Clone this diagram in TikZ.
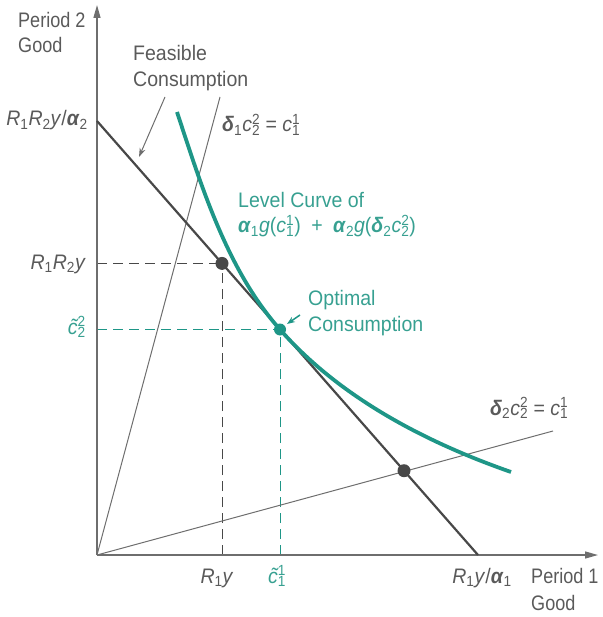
\documentclass[tikz,border=0pt]{standalone}
\usepackage{fontspec}
\setmainfont[FakeStretch=0.93]{Liberation Sans}
\newfontfamily\narrowf[FakeStretch=0.86]{Liberation Sans}
\usetikzlibrary{arrows.meta,calc}
\definecolor{teal1}{RGB}{30,150,135}
\definecolor{tealtxt}{RGB}{55,160,145}
\definecolor{gtxt}{RGB}{90,90,90}
\definecolor{gline}{RGB}{110,110,110}
\definecolor{gdark}{RGB}{72,72,72}
\newcommand\iv[1]{\textit{#1}}
\newcommand\gk[1]{\textbf{\textit{#1}}}
\newcommand\sbs[1]{\textsubscript{#1}}
\newcommand\sbp[2]{\rlap{\textsuperscript{#1}}\textsubscript{#2}}
\tikzset{
 lbl/.style={font=\fontsize{21}{25}\selectfont, text=gtxt, inner sep=0pt},
 nlbl/.style={font=\fontsize{21}{25}\selectfont\narrowf, text=gtxt, inner sep=0pt},
 tlbl/.style={lbl, text=tealtxt},
 axisline/.style={draw=gline, line width=1.3pt, -{Triangle[length=13pt,width=7pt]}},
 ray/.style={draw=gline, line width=1pt},
 budget/.style={draw=gdark, line width=2.2pt},
 lvl/.style={draw=teal1, line width=3.8pt},
 gdash/.style={draw=gdark, line width=1pt, dash pattern=on 10pt off 6pt},
 tdash/.style={draw=teal1, line width=1pt, dash pattern=on 10pt off 6pt},
 gdot/.style={circle, fill=gdark, minimum size=13pt, inner sep=0pt},
 tdot/.style={circle, fill=teal1, minimum size=12pt, inner sep=0pt},
 pointer/.style={draw=gline, line width=1pt, -{Stealth[length=9pt,width=6pt]}},
 tpointer/.style={draw=teal1, line width=1.5pt, -{Stealth[length=8pt,width=6pt]}},
}
\begin{document}
\begin{tikzpicture}[x=1pt,y=-1pt]
\useasboundingbox (0,0) rectangle (602,617);
% coordinates
\coordinate (O) at (97,555);
\coordinate (Ytop) at (97,5);
\coordinate (Xend) at (598,555);
\coordinate (B1) at (97,121);
\coordinate (B2) at (478,555);
\coordinate (S1) at (220,97);
\coordinate (S2) at (553,431);
\coordinate (E) at (222,263.4);
\coordinate (T) at (280,329.5);
\coordinate (P3) at (404,470.7);
\coordinate (C0) at (177,112);
\coordinate (C1) at (511,472);
\coordinate (FA) at (165,97);
\coordinate (FB) at (139,157);
\coordinate (OA) at (300,315);
\coordinate (OB) at (287,324);
% dashed guides
\draw[gdash] (E -| O) -- (E);
\draw[gdash] (E |- O) -- (E);
\draw[tdash] (T -| O) -- (T);
\draw[tdash] (T |- O) -- (T);
% rays
\draw[ray] (O) -- (S1);
\draw[ray] (O) -- (S2);
% axes
\draw[axisline] (O) -- (Ytop);
\draw[axisline] (O) -- (Xend);
% budget line
\draw[budget] (B1) -- (B2);
% level curve
\draw[lvl] (C0) .. controls (201,185) and (227,270) .. (T)
 .. controls (339.4,397.2) and (425,442) .. (C1);
% dots
\node[gdot] (dE) at (E) {};
\node[gdot] (dP) at (P3) {};
\node[tdot] (dT) at (T) {};
% pointers
\draw[pointer] (FA) -- (FB);
\draw[tpointer] (OA) -- (OB);
% labels
\node[nlbl, anchor=base west] (p2a) at (18,28) {Period 2};
\node[nlbl, anchor=base west] (p2b) at (18,53) {Good};
\node[lbl, anchor=base west] (fca) at (133,61) {Feasible};
\node[lbl, anchor=base west] (fcb) at (133,87) {Consumption};
\node[lbl, anchor=base east] (lb1) at (88,126) {\iv{R}\sbs{1}\iv{R}\sbs{2}\iv{y}/\gk{α}\sbs{2}};
\node[lbl, anchor=base west] (lr1) at (222,132) {\gk{δ}\sbs{1}\iv{c}\sbp{2}{2} = \iv{c}\sbp{1}{1}};
\node[tlbl, anchor=base west] (lva) at (238,208) {Level Curve of};
\node[tlbl, anchor=base west] (lvb) at (238,233) {\gk{α}\sbs{1}\iv{g}(\iv{c}\sbp{1}{1})\,\,\,+\,\,\,\gk{α}\sbs{2}\iv{g}(\gk{δ}\sbs{2}\iv{c}\sbp{2}{2})};
\node[lbl, anchor=base east] (lE) at (86,269) {\iv{R}\sbs{1}\iv{R}\sbs{2}\iv{y}};
\node[tlbl, anchor=base west] (oca) at (308,305) {Optimal};
\node[tlbl, anchor=base west] (ocb) at (308,331) {Consumption};
\node[tlbl, anchor=base east] (lT) at (86,334) {\iv{\~{c}}\sbp{2}{2}};
\node[lbl, anchor=base west] (lr2) at (490,415) {\gk{δ}\sbs{2}\iv{c}\sbp{2}{2} = \iv{c}\sbp{1}{1}};
\node[lbl, anchor=base] (xE) at (217,583) {\iv{R}\sbs{1}\iv{y}};
\node[tlbl, anchor=base] (xT) at (277,583) {\iv{\~{c}}\sbp{1}{1}};
\node[lbl, anchor=base] (xB) at (482,583) {\iv{R}\sbs{1}\iv{y}/\gk{α}\sbs{1}};
\node[nlbl, anchor=base west] (p1a) at (531,583) {Period 1};
\node[nlbl, anchor=base west] (p1b) at (531,610) {Good};
\end{tikzpicture}
\end{document}
